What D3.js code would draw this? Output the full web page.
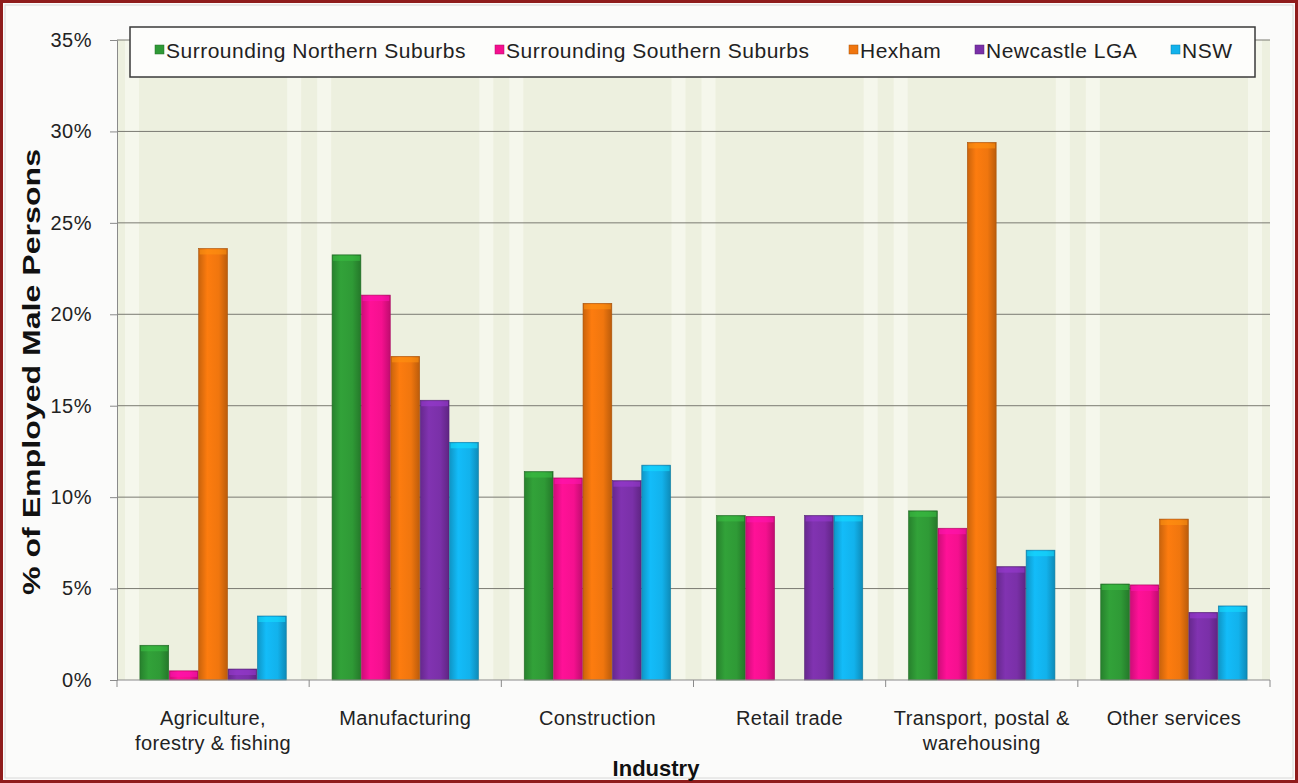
<!DOCTYPE html>
<html><head><meta charset="utf-8">
<script src="https://cdn.jsdelivr.net/npm/d3@7"></script>
<style>body{margin:0;background:#fff;}svg{display:block;font-family:"Liberation Sans",Arial,sans-serif;}</style>
</head><body><svg id="c" width="1298" height="783"></svg>
<script>
const categories = [["Agriculture,","forestry & fishing"],["Manufacturing"],["Construction"],["Retail trade"],["Transport, postal &","warehousing"],["Other services"]];
const seriesNames = ["Surrounding Northern Suburbs","Surrounding Southern Suburbs","Hexham","Newcastle LGA","NSW"];
const northern = [1.9, 23.25, 11.4, 9.0, 9.25, 5.25];
const southern = [0.5, 21.05, 11.05, 8.95, 8.3, 5.2];
const hexham   = [23.6, 17.7, 20.6, null, 29.4, 8.8];
const newcastle= [0.6, 15.3, 10.9, 9.0, 6.2, 3.7];
const nsw      = [3.5, 13.0, 11.75, 9.0, 7.1, 4.05];
const yTicks = [0,5,10,15,20,25,30,35];
const colors = ["#2f9a36","#f5108f","#f0760e","#7a30a8","#12b2ec"];
const seriesValues = [northern, southern, hexham, newcastle, nsw];

const svg = d3.select("#c");
const defs = svg.append("defs");
colors.forEach((c,i)=>{
  const g = defs.append("linearGradient").attr("id","g"+i).attr("x1",0).attr("x2",1).attr("y1",0).attr("y2",0);
  const base = d3.color(c);
  g.append("stop").attr("offset","0%").attr("stop-color",base.darker(0.5));
  g.append("stop").attr("offset","30%").attr("stop-color",base.brighter(0.15));
  g.append("stop").attr("offset","70%").attr("stop-color",base);
  g.append("stop").attr("offset","100%").attr("stop-color",base.darker(0.7));
});
// outer frame
svg.append("rect").attr("x",1.5).attr("y",1.5).attr("width",1295).attr("height",780).attr("fill","#fbfbfa").attr("stroke","#8f1c1c").attr("stroke-width",3);
svg.append("rect").attr("x",5).attr("y",5).attr("width",1288).attr("height",773).attr("fill","none").attr("stroke","#d8d8d8").attr("stroke-width",1);

const m = {left:117, right:1270, top:40, bottom:680};
const x0 = d3.scaleBand().domain(d3.range(categories.length)).range([m.left,m.right]).paddingInner(0).paddingOuter(0);
const x1 = d3.scaleBand().domain(d3.range(seriesNames.length)).range([0,x0.bandwidth()]).paddingOuter(0.78).paddingInner(0.02);
const y = d3.scaleLinear().domain([0,35]).range([m.bottom,m.top]);

// plot background
svg.append("rect").attr("x",m.left).attr("y",m.top).attr("width",m.right-m.left).attr("height",m.bottom-m.top).attr("fill","#edf0df");
categories.forEach((c,i)=>{
  svg.append("rect").attr("x",x0(i)+8).attr("y",m.top).attr("width",14).attr("height",m.bottom-m.top).attr("fill","#f5f7ec");
  svg.append("rect").attr("x",x0(i)+x0.bandwidth()-22).attr("y",m.top).attr("width",14).attr("height",m.bottom-m.top).attr("fill","#f5f7ec");
});

// gridlines
svg.append("g").selectAll("line").data(yTicks.filter(d=>d>0)).join("line")
  .attr("x1",m.left).attr("x2",m.right).attr("y1",d=>y(d)).attr("y2",d=>y(d))
  .attr("stroke","#7a7a72").attr("stroke-width",1);

// y axis
const yAxis = d3.axisLeft(y).tickValues(yTicks).tickFormat(d=>d+"%").tickSize(7).tickPadding(18);
const ya = svg.append("g").attr("transform",`translate(${m.left},0)`).call(yAxis);
ya.select(".domain").attr("stroke","#8a8a8a");
ya.selectAll(".tick line").attr("stroke","#8a8a8a");
ya.selectAll("text").attr("font-size",20).attr("fill","#222").attr("letter-spacing",0.5).attr("font-family","Liberation Sans, Arial");

// bars
const g = svg.append("g");
categories.forEach((c,i)=>{
  seriesValues.forEach((vals,s)=>{
    const v = vals[i];
    if (v==null) return;
    g.append("rect").attr("x",x0(i)+x1(s)).attr("y",y(v)).attr("width",x1.bandwidth()).attr("height",y(0)-y(v))
      .attr("fill",`url(#g${s})`).attr("stroke",d3.color(colors[s]).darker(1)).attr("stroke-width",0.6);
    g.append("rect").attr("x",x0(i)+x1(s)+1).attr("y",y(v)+1).attr("width",x1.bandwidth()-2).attr("height",Math.min(5,y(0)-y(v)-1))
      .attr("fill",d3.color(colors[s]).brighter(0.6)).attr("opacity",0.6);
  });
});

// x axis
const xa = svg.append("g").attr("transform",`translate(0,${m.bottom})`);
xa.append("line").attr("x1",m.left).attr("x2",m.right).attr("stroke","#8a8a8a");
xa.selectAll("line.t").data(d3.range(categories.length+1)).join("line").attr("class","t")
  .attr("x1",d=>m.left+d*x0.bandwidth()).attr("x2",d=>m.left+d*x0.bandwidth()).attr("y1",0).attr("y2",7).attr("stroke","#8a8a8a");
categories.forEach((lines,i)=>{
  const t = xa.append("text").attr("x",x0(i)+x0.bandwidth()/2).attr("y",45).attr("text-anchor","middle")
    .attr("font-size",20).attr("letter-spacing",0.4).attr("fill","#222");
  lines.forEach((l,k)=>t.append("tspan").attr("x",x0(i)+x0.bandwidth()/2).attr("dy",k===0?0:25).text(l));
});

// axis titles
svg.append("text").attr("x",656).attr("y",776).attr("text-anchor","middle").attr("font-size",22).attr("font-weight","bold").attr("fill","#111").text("Industry");
svg.append("text").attr("transform",`translate(40,372) rotate(-90)`).attr("text-anchor","middle")
  .attr("font-size",24).attr("font-weight","bold").attr("fill","#111")
  .attr("textLength",446).attr("lengthAdjust","spacingAndGlyphs").text("% of Employed Male Persons");

// legend
svg.append("rect").attr("x",130).attr("y",27).attr("width",1125).attr("height",50).attr("fill","#fdfdfb").attr("stroke","#3a3a3a").attr("stroke-width",1.5);
const legX = [155, 495, 849, 975, 1171];
seriesNames.forEach((n,s)=>{
  svg.append("rect").attr("x",legX[s]).attr("y",45).attr("width",9).attr("height",9).attr("fill",colors[s]).attr("stroke",d3.color(colors[s]).darker(1)).attr("stroke-width",0.5);
  svg.append("text").attr("x",legX[s]+11).attr("y",58).attr("font-size",21).attr("letter-spacing",0.5).attr("fill","#222").text(n);
});
</script></body></html>
